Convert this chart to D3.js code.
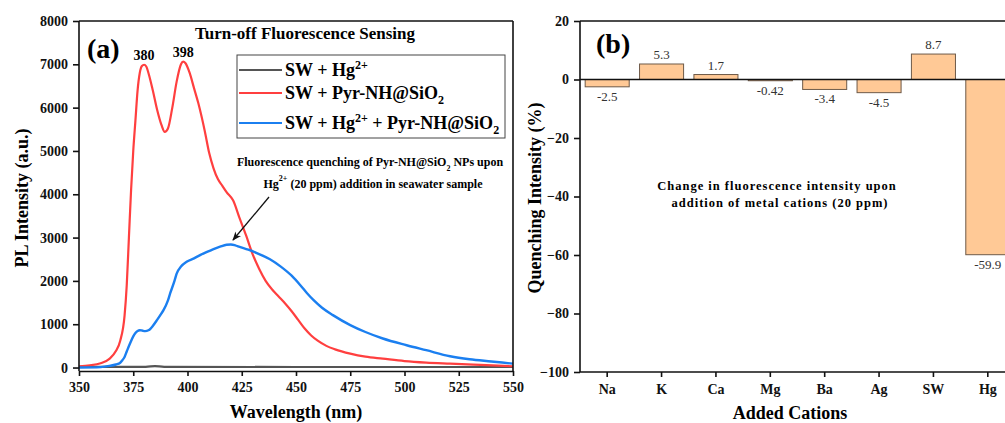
<!DOCTYPE html>
<html><head><meta charset="utf-8">
<script src="https://cdn.jsdelivr.net/npm/d3@7"></script>
<style>body{margin:0;background:#fff}svg{display:block}text{font-family:"Liberation Serif","Times New Roman",serif}</style>
</head><body><svg id="c" width="1005" height="423"></svg>
<script>
// ---- Panel (a) data ----
const wlTicks = [350,375,400,425,450,475,500,525,550];
const plTicks = [0,1000,2000,3000,4000,5000,6000,7000,8000];
const swHg = [[350,15],[370,15],[380,15],[383,28],[385,32],[387,28],[390,15],[450,12],[550,12]];
const swPyr = [[350,30],[355,50],[360,100],[364,200],[367,380],[369,620],[371,1200],[372,1900],[373,3000],[374,4100],[375,5000],[376,5700],[377,6400],[378,6800],[379,6960],[380,6990],[381,6950],[382,6800],[384,6400],[386,5950],[388,5600],[389.5,5440],[391,5520],[393,6000],[395,6600],[397,7000],[398,7060],[399,7030],[401,6800],[403,6450],[405,6100],[408,5450],[410,4950],[412,4600],[414,4350],[416,4200],[418,4050],[421,3860],[424,3450],[427,3050],[430,2620],[433,2280],[436,2000],[439,1800],[442,1640],[445,1480],[448,1300],[451,1100],[454,900],[457,740],[460,620],[464,500],[468,420],[475,320],[482,250],[490,205],[500,150],[510,115],[521,90],[535,60],[550,30]];
const swHgPyr = [[350,0],[360,10],[364,37],[367,70],[369,110],[370,170],[371,245],[372,370],[373.5,554],[375,720],[376,800],[377,845],[378,861],[379,855],[380.5,840],[382,860],[383,900],[384,960],[386,1100],[388,1250],[389,1330],[391,1550],[392,1710],[394,2000],[395,2170],[397,2330],[399.6,2440],[403,2520],[406,2600],[409,2670],[412,2735],[415,2790],[418,2835],[420,2840],[422,2820],[424,2785],[428,2720],[433,2620],[438,2500],[443,2330],[448,2120],[452,1900],[455,1720],[458,1560],[462,1380],[467,1210],[475,980],[482,820],[490,670],[501,515],[510,400],[521,260],[530,190],[540,140],[550,90]];
const peakLabels = [[380,"380",6990],[398,"398",7060]];

// ---- Panel (b) data ----
const cations = ["Na","K","Ca","Mg","Ba","Ag","SW","Hg"];
const quench = [-2.5,5.3,1.7,-0.42,-3.4,-4.5,8.7,-59.9];
const quenchLabels = ["-2.5","5.3","1.7","-0.42","-3.4","-4.5","8.7","-59.9"];
const qTicks = [20,0,-20,-40,-60,-80,-100];

const svg = d3.select("#c");
svg.append("rect").attr("width",1005).attr("height",423).attr("fill","#fff");
const defs = svg.append("defs");
defs.append("marker").attr("id","ah").attr("viewBox","0 0 10 10").attr("refX",9).attr("refY",5)
  .attr("markerWidth",7).attr("markerHeight",7).attr("orient","auto-start-reverse")
  .append("path").attr("d","M0,1 L10,5 L0,9 L3,5 Z").attr("fill","#111");

function styleAxis(g,size){
  g.selectAll("path").attr("stroke","#111").attr("stroke-width",1.6);
  g.selectAll("line").attr("stroke","#111").attr("stroke-width",1.6);
  g.selectAll("text").attr("font-family","Liberation Serif").attr("font-weight","bold").attr("font-size",size).attr("fill","#111");
}

// ===== Panel (a) =====
const xA = d3.scaleLinear().domain([350,550]).range([79,513]);
const yA = d3.scaleLinear().domain([-80,8000]).range([371,21]);
const ga = svg.append("g");
const line = d3.line().x(d=>xA(d[0])).y(d=>yA(d[1])).curve(d3.curveMonotoneX);
ga.append("path").datum(swHg).attr("d",line).attr("fill","none").attr("stroke","#555").attr("stroke-width",2.2);
ga.append("path").datum(swPyr).attr("d",line).attr("fill","none").attr("stroke","#ff3f3f").attr("stroke-width",2.2);
ga.append("path").datum(swHgPyr).attr("d",line).attr("fill","none").attr("stroke","#1b7ff0").attr("stroke-width",2.4);

// frame
ga.append("line").attr("x1",79).attr("x2",513).attr("y1",21).attr("y2",21).attr("stroke","#111").attr("stroke-width",1.6);
ga.append("line").attr("x1",513).attr("x2",513).attr("y1",21).attr("y2",371).attr("stroke","#111").attr("stroke-width",1.6);
const axA = ga.append("g").attr("transform","translate(0,371)")
  .call(d3.axisBottom(xA).tickValues(wlTicks).tickSize(5).tickSizeOuter(0).tickPadding(6));
styleAxis(axA,14);
const ayA = ga.append("g").attr("transform","translate(79,0)")
  .call(d3.axisLeft(yA).tickValues(plTicks).tickSize(6).tickSizeOuter(0).tickPadding(5).tickFormat(d3.format("d")));
styleAxis(ayA,14);
ayA.select(".domain").attr("d","M0,21V371");

ga.append("text").attr("x",296).attr("y",418).attr("text-anchor","middle").attr("font-weight","bold").attr("font-size",18).text("Wavelength (nm)");
ga.append("text").attr("transform","translate(28,198) rotate(-90)").attr("text-anchor","middle").attr("font-weight","bold").attr("font-size",18).text("PL Intensity (a.u.)");
ga.append("text").attr("x",87).attr("y",58).attr("font-weight","bold").attr("font-size",28).text("(a)");
ga.append("text").attr("x",305).attr("y",39).attr("text-anchor","middle").attr("font-weight","bold").attr("font-size",17).text("Turn-off Fluorescence Sensing");
peakLabels.forEach(p=>{
  ga.append("text").attr("x",xA(p[0])).attr("y",yA(p[2])-5).attr("text-anchor","middle").attr("font-weight","bold").attr("font-size",14).text(p[1]);
});

// legend
const lg = ga.append("g");
lg.append("rect").attr("x",237).attr("y",55).attr("width",268).attr("height",83).attr("fill","#fff").attr("stroke","#444").attr("stroke-width",1);
const legItems = [
  {c:"#555",y:70,parts:[["SW + Hg",0],["2+",1]]},
  {c:"#ff3f3f",y:93,parts:[["SW + Pyr-NH@SiO",0],["2",-1]]},
  {c:"#1b7ff0",y:123,parts:[["SW + Hg",0],["2+",1],[" + Pyr-NH@SiO",0],["2",-1]]}
];
function rich(t,parts,small){
  let acc=0;
  parts.forEach(p=>{
    const ts = t.append("tspan").text(p[0]);
    const want = p[1]===1?-7:(p[1]===-1?5:0);
    if(p[1]!==0) ts.attr("font-size",small);
    ts.attr("dy",want-acc); acc=want;
  });
}
legItems.forEach(it=>{
  lg.append("line").attr("x1",239).attr("x2",282).attr("y1",it.y).attr("y2",it.y).attr("stroke",it.c).attr("stroke-width",2.2);
  const t = lg.append("text").attr("x",285).attr("y",it.y+6).attr("font-weight","bold").attr("font-size",18);
  rich(t,it.parts,12);
});

// annotation
const an1 = ga.append("text").attr("x",370).attr("y",166).attr("text-anchor","middle").attr("font-weight","bold").attr("font-size",12);
rich(an1,[["Fluorescence quenching of Pyr-NH@SiO",0],["2",-1],[" NPs upon",0]],8);
const an2 = ga.append("text").attr("x",373).attr("y",188).attr("text-anchor","middle").attr("font-weight","bold").attr("font-size",12);
rich(an2,[["Hg",0],["2+",1],[" (20 ppm) addition in seawater sample",0]],8);
ga.append("line").attr("x1",269).attr("y1",197).attr("x2",233).attr("y2",240).attr("stroke","#111").attr("stroke-width",1.3).attr("marker-end","url(#ah)");

// ===== Panel (b) =====
const xB = d3.scaleBand().domain(cations).range([580,1015]).paddingInner(0.19).paddingOuter(0.095);
const yB = d3.scaleLinear().domain([-100,20]).range([372,21]);
const gb = svg.append("g");
gb.selectAll("rect.bar").data(cations).join("rect").attr("class","bar")
  .attr("x",d=>xB(d)).attr("width",xB.bandwidth())
  .attr("y",(d,i)=>yB(Math.max(0,quench[i]))).attr("height",(d,i)=>Math.abs(yB(quench[i])-yB(0)))
  .attr("fill","#ffc996").attr("stroke","#6e5a48").attr("stroke-width",1);
gb.append("line").attr("x1",580).attr("x2",1015).attr("y1",yB(0)).attr("y2",yB(0)).attr("stroke","#111").attr("stroke-width",1.5);
gb.append("line").attr("x1",580).attr("x2",1015).attr("y1",21).attr("y2",21).attr("stroke","#111").attr("stroke-width",1.6);
gb.selectAll("text.bl").data(cations).join("text").attr("class","bl")
  .attr("x",d=>xB(d)+xB.bandwidth()/2)
  .attr("y",(d,i)=>quench[i]>=0 ? yB(quench[i])-5 : yB(quench[i])+14)
  .attr("text-anchor","middle").attr("font-size",13).attr("fill","#333")
  .text((d,i)=>quenchLabels[i]);
const axB = gb.append("g").attr("transform","translate(0,372)")
  .call(d3.axisBottom(xB).tickSize(5).tickSizeOuter(0).tickPadding(7));
styleAxis(axB,14);
axB.select(".domain").attr("d","M580,0H1015");
const ayB = gb.append("g").attr("transform","translate(580,0)")
  .call(d3.axisLeft(yB).tickValues(qTicks).tickSize(6).tickSizeOuter(0).tickPadding(5).tickFormat(d3.format("d")));
styleAxis(ayB,14);
ayB.select(".domain").attr("d","M0,21V372");

gb.append("text").attr("x",790).attr("y",419).attr("text-anchor","middle").attr("font-weight","bold").attr("font-size",18).text("Added Cations");
gb.append("text").attr("transform","translate(541,198) rotate(-90)").attr("text-anchor","middle").attr("font-weight","bold").attr("font-size",18).text("Quenching Intensity (%)");
gb.append("text").attr("x",596).attr("y",53).attr("font-weight","bold").attr("font-size",28).text("(b)");
gb.append("text").attr("x",777).attr("y",190).attr("text-anchor","middle").attr("font-weight","bold").attr("font-size",12.5).attr("letter-spacing",1).text("Change in fluorescence intensity upon");
gb.append("text").attr("x",780).attr("y",207).attr("text-anchor","middle").attr("font-weight","bold").attr("font-size",12.5).attr("letter-spacing",1).text("addition of metal cations (20 ppm)");
</script></body></html>
